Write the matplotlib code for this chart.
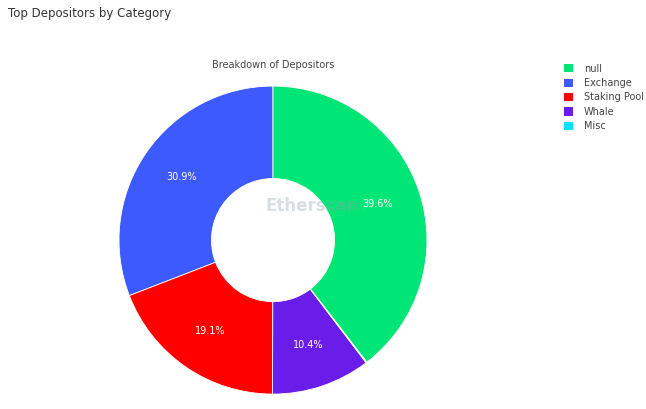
import matplotlib.pyplot as plt
from matplotlib.patches import Patch

labels = ["null", "Exchange", "Staking Pool", "Whale", "Misc"]
values = [39.6, 30.9, 19.1, 10.4, 0.1]
colors = ["#00e676", "#3d5afe", "#ff0000", "#6a1de8", "#00e5ff"]

fig = plt.figure(figsize=(6.46, 4.09), dpi=100)
ax = fig.add_axes([0.4226 - 0.2384, 0.413 - 0.3765, 0.4768, 0.753])
order = [1, 2, 3, 4, 0]  # counterclockwise from top
wedges, _, autotexts = ax.pie([values[i] for i in order], colors=[colors[i] for i in order],
       startangle=90, counterclock=True,
       autopct=lambda p: f"{p:.1f}%" if p > 1 else "",
       pctdistance=0.72, wedgeprops=dict(width=0.6, edgecolor="white", linewidth=0.6),
       textprops=dict(color="white", fontsize=7))
ax.set_xlim(-1, 1)
ax.set_ylim(-1, 1)
ax.set_aspect("equal")
ax.text(-0.05, 0.22, "Etherscan", fontsize=12, color="#90a4ae",
        ha="left", va="center", fontweight="bold", alpha=0.35, zorder=10)
fig.text(8/646, 1 - 14/409, "Top Depositors by Category", fontsize=8.5, color="#333", va="center")
fig.text(273/646, 1 - 65/409, "Breakdown of Depositors", fontsize=7, color="#444", ha="center", va="center")
handles = [Patch(facecolor=c) for c in colors]
fig.legend(handles, labels, loc="upper left", bbox_to_anchor=(555/646, 1 - 55/409), frameon=False,
           fontsize=7, handlelength=0.9, handleheight=0.9, labelspacing=0.45, handletextpad=1.2,
           labelcolor="#444")
fig.savefig("out.png", dpi=100)
